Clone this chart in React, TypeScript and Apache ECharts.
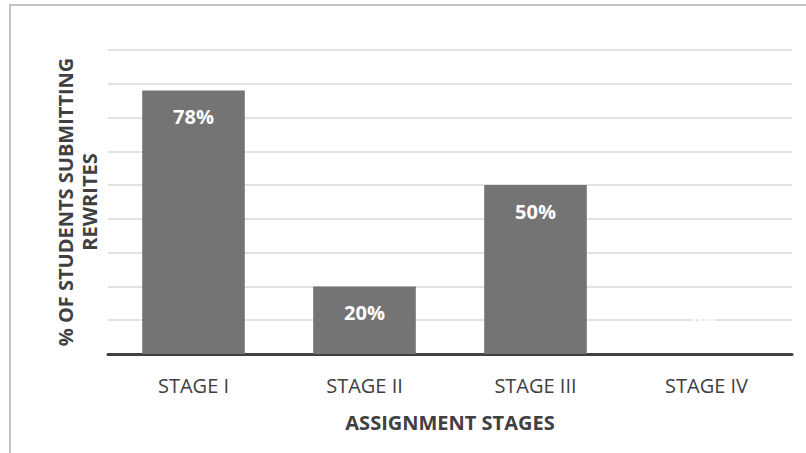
import React, { useEffect, useRef } from "react";
import * as echarts from "echarts";

const categories = ["STAGE I", "STAGE II", "STAGE III", "STAGE IV"];
const values = [78, 20, 50, 0];
const yAxisTitle = "% OF STUDENTS SUBMITTING\nREWRITES";
const xAxisTitle = "ASSIGNMENT STAGES";

export default function App() {
  const ref = useRef<HTMLDivElement>(null);
  useEffect(() => {
    document.body.style.margin = "0";
    const chart = echarts.init(ref.current!, null, { renderer: "svg" });
    const font = "'Open Sans', 'Noto Sans', sans-serif";
    chart.setOption({
      animation: false,
      backgroundColor: "#ffffff",
      textStyle: { fontFamily: font },
      graphic: [
        {
          type: "rect",
          shape: { x: 10, y: 5, width: 900, height: 600 },
          style: { fill: "none", stroke: "#c4c4c4", lineWidth: 2 },
          silent: true,
        },
      ],
      grid: { left: 108, right: 14, top: 50, bottom: 99 },
      xAxis: {
        type: "category",
        data: categories,
        axisLine: { lineStyle: { color: "#404040", width: 3 } },
        axisTick: { show: false },
        axisLabel: { color: "#404040", fontSize: 20, margin: 21, fontFamily: font },
        name: xAxisTitle,
        nameLocation: "middle",
        nameGap: 58,
        nameTextStyle: { color: "#404040", fontSize: 20, fontWeight: "bold", fontFamily: font },
      },
      yAxis: {
        type: "value",
        min: 0,
        max: 90,
        interval: 10,
        axisLabel: { show: false },
        axisLine: { show: false },
        axisTick: { show: false },
        splitLine: { lineStyle: { color: "#d9d9d9", width: 1.5 } },
        name: yAxisTitle,
        nameLocation: "middle",
        nameRotate: 90,
        nameGap: 7,
        nameTextStyle: {
          color: "#404040",
          fontSize: 20,
          fontWeight: "bold",
          lineHeight: 24,
          align: "center",
          fontFamily: font,
        },
      },
      series: [
        {
          type: "bar",
          data: values.map((v) =>
            v === 0
              ? { value: v, label: { position: "top", distance: 22 } }
              : v
          ),
          barWidth: "60%",
          itemStyle: { color: "#747474" },
          label: {
            show: true,
            position: "insideTop",
            distance: 16,
            color: "#ffffff",
            fontWeight: "bold",
            fontSize: 20,
            fontFamily: font,
            formatter: "{c}%",
          },
        },
      ],
    });
    return () => chart.dispose();
  }, []);
  return <div ref={ref} style={{ width: 806, height: 453 }} />;
}
